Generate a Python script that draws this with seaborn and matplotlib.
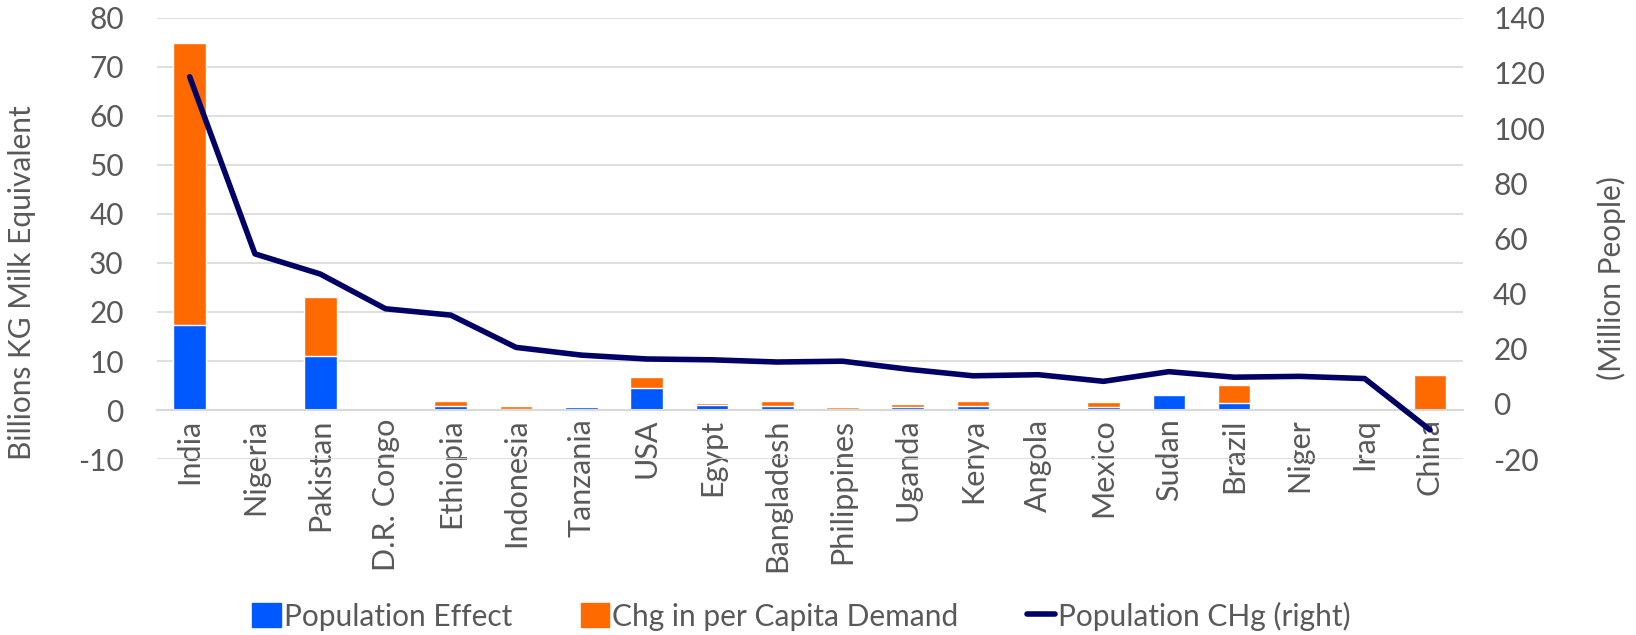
import matplotlib
matplotlib.use("Agg")
import matplotlib.pyplot as plt
import matplotlib.patches as mpatches
import matplotlib.lines as mlines
import seaborn as sns
import numpy as np
import pandas as pd

# Data
countries = ["India", "Nigeria", "Pakistan", "D.R. Congo", "Ethiopia", "Indonesia",
             "Tanzania", "USA", "Egypt", "Bangladesh", "Philippines", "Uganda",
             "Kenya", "Angola", "Mexico", "Sudan", "Brazil", "Niger", "Iraq", "China"]
pop_effect = [17.3, 0.2, 11.1, 0.05, 0.8, 0.2, 0.6, 4.4, 1.0, 0.8,
              0.2, 0.6, 0.9, 0.0, 0.7, 3.0, 1.5, 0.0, 0.0, -0.2]
percap_chg = [57.6, 0.2, 12.0, 0.05, 1.0, 0.7, 0.3, 2.4, 0.4, 1.1,
              0.4, 0.6, 1.0, 0.0, 0.9, 0.0, 3.7, 0.0, 0.2, 7.2]
pop_chg = [118.6, 54.4, 47.1, 34.5, 32.2, 20.5, 17.7, 16.3, 16.0, 15.2,
           15.5, 12.6, 10.2, 10.6, 8.2, 11.7, 9.7, 10.0, 9.2, -9.4]

BLUE = "#0058FF"
ORANGE = "#FF6A00"
NAVY = "#000066"
TXT = "#595959"
GRID = "#D9D9D9"
FS = 21.5

sns.set_theme(style="white")
plt.rcParams["font.family"] = ["Lato", "DejaVu Sans"]
plt.rcParams["axes.unicode_minus"] = False

df = pd.DataFrame({"country": countries, "pop": pop_effect, "pc": percap_chg, "line": pop_chg})
df["top"] = df["pop"].clip(lower=0) + df["pc"]

fig = plt.figure(figsize=(16.36, 6.35), dpi=100)
ax = fig.add_axes([0.096, 0.277, 0.798, 0.695])

sns.barplot(data=df, x="country", y="top", color=ORANGE, width=0.5, saturation=1,
            ax=ax, order=countries)
sns.barplot(data=df, x="country", y="pop", color=BLUE, width=0.5, saturation=1,
            ax=ax, order=countries)

ax.set_ylim(-10, 80)
ax.set_yticks(np.arange(-10, 81, 10))
ax.set_xlim(-0.5, len(countries) - 0.5)
ax.grid(axis="y", color=GRID, lw=1.2)
ax.set_axisbelow(True)
for s in ["top", "right", "left"]:
    ax.spines[s].set_visible(False)
ax.spines["bottom"].set_position(("data", 0))
ax.spines["bottom"].set_color(GRID)
ax.spines["bottom"].set_linewidth(1.5)
ax.set_xlabel("")
ax.set_ylabel("Billions KG Milk Equivalent", fontsize=FS, color=TXT)
ax.yaxis.set_label_coords(-0.093, 0.40)

ax2 = ax.twinx()
sns.lineplot(x=np.arange(len(countries)), y=df["line"], color=NAVY, lw=4.0,
             sort=False, ax=ax2)
ax2.set_ylim(-20, 140)
ax2.set_yticks(np.arange(-20, 141, 20))
for s in ax2.spines.values():
    s.set_visible(False)
ax2.set_ylabel("(Million People)", fontsize=FS, color=TXT)
ax2.yaxis.set_label_coords(1.1026, 0.41)

ax.tick_params(axis="x", length=0, pad=6, labelsize=22, labelcolor=TXT, rotation=90)
ax.tick_params(axis="y", length=0, pad=24, labelsize=FS, labelcolor=TXT)
ax2.tick_params(axis="y", which="both", length=0, pad=22, labelsize=FS, labelcolor=TXT)
for lab in ax.get_xticklabels():
    lab.set_va("top")
    lab.set_ha("center")

handles = [mpatches.Patch(color=BLUE, label="Population Effect"),
           mpatches.Patch(color=ORANGE, label="Chg in per Capita Demand"),
           mlines.Line2D([], [], color=NAVY, lw=4.0, label="Population CHg (right)")]
leg = fig.legend(handles=handles, loc="center", bbox_to_anchor=(0.49, 0.03), ncol=3,
                 frameon=False, fontsize=FS, handlelength=0.95, handleheight=0.85,
                 handletextpad=0.1, columnspacing=2.3)
for t in leg.get_texts():
    t.set_color(TXT)

fig.savefig("out.png", dpi=100)
